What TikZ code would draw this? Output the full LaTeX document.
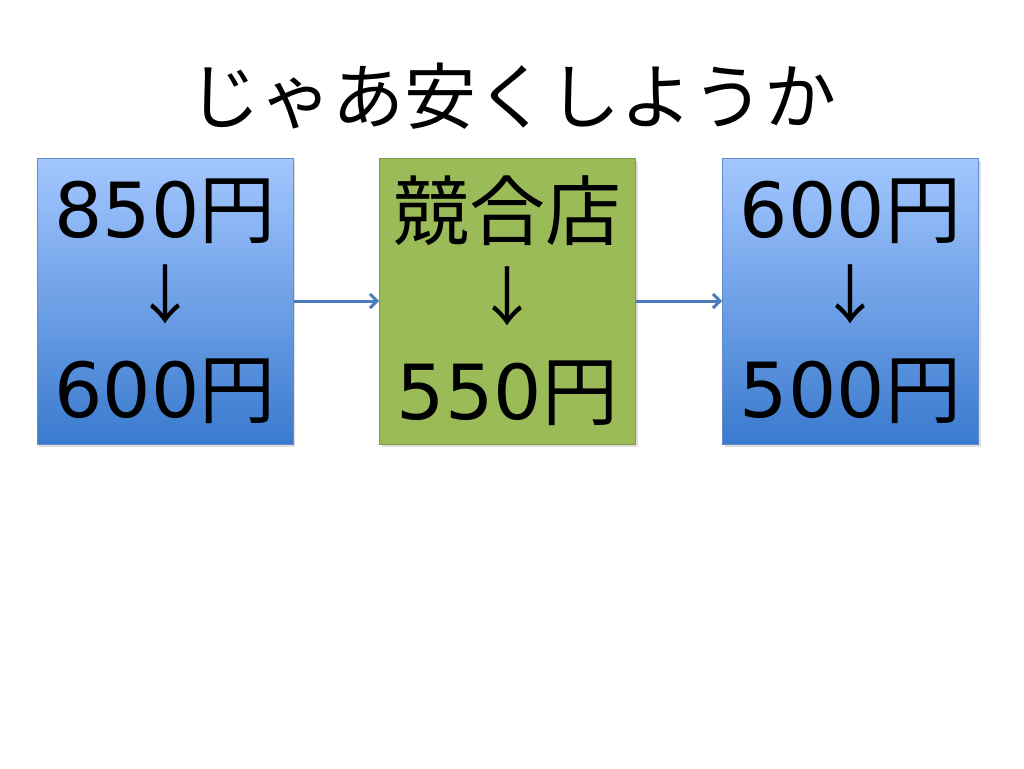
\documentclass[tikz,border=0pt]{standalone}
\usepackage{fontspec}
\setmainfont{Noto Sans CJK JP}
\newfontfamily\dg{DejaVu Sans}
\usetikzlibrary{arrows.meta,shadows}
\definecolor{bluetop}{RGB}{163,199,255}
\definecolor{bluebot}{RGB}{58,122,206}
\definecolor{blueline}{RGB}{100,140,205}
\definecolor{greenfill}{RGB}{155,187,89}
\definecolor{greenline}{RGB}{125,155,72}
\definecolor{conncol}{RGB}{74,126,187}
\newcommand{\darr}{\raisebox{9pt}{\fontsize{64}{64}\selectfont ↓}}
\tikzset{
 box/.style={rectangle, minimum width=256pt, minimum height=286pt, align=center, inner sep=0pt,
   font=\fontsize{76}{90}\selectfont,
   drop shadow={shadow xshift=2pt,shadow yshift=-3pt,opacity=0.25}},
 bluebox/.style={box, draw=blueline, line width=1pt, top color=bluetop, bottom color=bluebot},
 greenbox/.style={box, draw=greenline, line width=1pt, fill=greenfill},
 conn/.style={draw=conncol, line width=3pt, -{Straight Barb[length=7pt,width=14pt]}},
 titletext/.style={font=\fontsize{72}{80}\selectfont}
}
\begin{document}
\begin{tikzpicture}[x=1pt,y=-1pt]
\useasboundingbox (0,0) rectangle (1024,768);
\node[titletext] (t) at (512,96) {じゃあ安くしようか};
\node[bluebox] (b1) at (165,301) {{\dg 850}円\\\darr\\{\dg 600}円};
\node[greenbox] (b2) at (507.5,301) {競合店\\\darr\\{\dg 550}円};
\node[bluebox] (b3) at (850.5,301) {{\dg 600}円\\\darr\\{\dg 500}円};
\draw[conn] (b1) -- (b2);
\draw[conn] (b2) -- (b3);
\end{tikzpicture}
\end{document}
